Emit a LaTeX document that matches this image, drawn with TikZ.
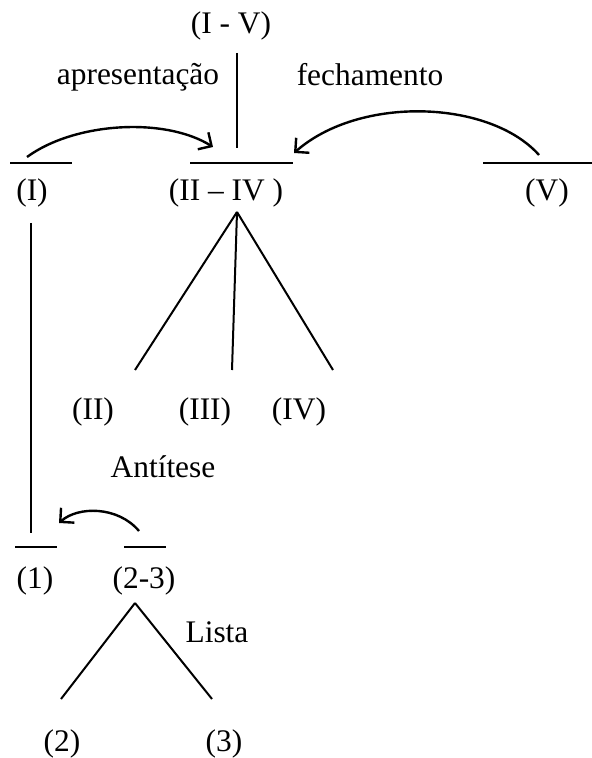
\documentclass[tikz,border=0pt]{standalone}
\usepackage{fontspec}
\setmainfont{Liberation Serif}
\usetikzlibrary{arrows.meta}

\begin{document}
\begin{tikzpicture}[x=0.5pt, y=-0.5pt,
  lbl/.style={anchor=base, inner sep=0pt, font=\fontsize{15.7}{18}\selectfont},
  ln/.style={line width=1pt},
  arr/.style={-{Straight Barb[length=5pt, width=10pt]}, line width=1.2pt}
]
  \useasboundingbox (0,0) rectangle (592,758);

  % labels
  \node[lbl] (tIV) at (231,34) {(I - V)};
  \node[lbl] (apres) at (138,85) {apresentação};
  \node[lbl] (fecha) at (370,86) {fechamento};
  \node[lbl] (tI) at (32,201) {(I)};
  \node[lbl] (tII-IV) at (226,201) {(II -- IV )};
  \node[lbl] (tV) at (547,201) {(V)};
  \node[lbl] (tII) at (93,419) {(II)};
  \node[lbl] (tIII) at (205,419) {(III)};
  \node[lbl] (tIVb) at (299,419) {(IV)};
  \node[lbl] (antit) at (163,477) {Antítese};
  \node[lbl] (t1) at (35,588) {(1)};
  \node[lbl] (t23) at (144,588) {(2-3)};
  \node[lbl] (lista) at (217,642) {Lista};
  \node[lbl] (t2) at (62,751) {(2)};
  \node[lbl] (t3) at (224,751) {(3)};

  % bars and line ends
  \coordinate (top-a) at (237,53);   \coordinate (top-b) at (237,148);
  \coordinate (bI-l) at (10,163);    \coordinate (bI-r) at (72,163);
  \coordinate (bII-l) at (190,163);  \coordinate (bII-r) at (293,163);
  \coordinate (bV-l) at (483,163);   \coordinate (bV-r) at (592,163);
  \coordinate (fan) at (237,212);
  \coordinate (e2) at (135,370);     \coordinate (e3) at (232,370);
  \coordinate (e4) at (333,370);
  \coordinate (vI-a) at (31,223);    \coordinate (vI-b) at (31,533);
  \coordinate (b1-l) at (15,547);    \coordinate (b1-r) at (57,547);
  \coordinate (b23-l) at (124,547);  \coordinate (b23-r) at (166,547);
  \coordinate (lfan) at (135,603);
  \coordinate (l2) at (61,699);      \coordinate (l3) at (212,699);
  \coordinate (aI) at (27,157);      \coordinate (aII) at (213,147);
  \coordinate (aV) at (539,155);     \coordinate (aIIb) at (294,153);
  \coordinate (a23) at (139,531);    \coordinate (a1) at (59,523);

  \draw[ln] (top-a) -- (top-b);
  \draw[ln] (bI-l) -- (bI-r);
  \draw[ln] (bII-l) -- (bII-r);
  \draw[ln] (bV-l) -- (bV-r);
  \draw[ln] (fan) -- (e2);
  \draw[ln] (fan) -- (e3);
  \draw[ln] (fan) -- (e4);
  \draw[ln] (vI-a) -- (vI-b);
  \draw[ln] (b1-l) -- (b1-r);
  \draw[ln] (b23-l) -- (b23-r);
  \draw[ln] (lfan) -- (l2);
  \draw[ln] (lfan) -- (l3);

  \draw[arr] (aI) .. controls (75,122) and (165,117) .. (aII);
  \draw[arr] (aV) .. controls (490,100) and (360,95) .. (aIIb);
  \draw[arr] (a23) .. controls (118,506) and (78,506) .. (a1);
\end{tikzpicture}
\end{document}
